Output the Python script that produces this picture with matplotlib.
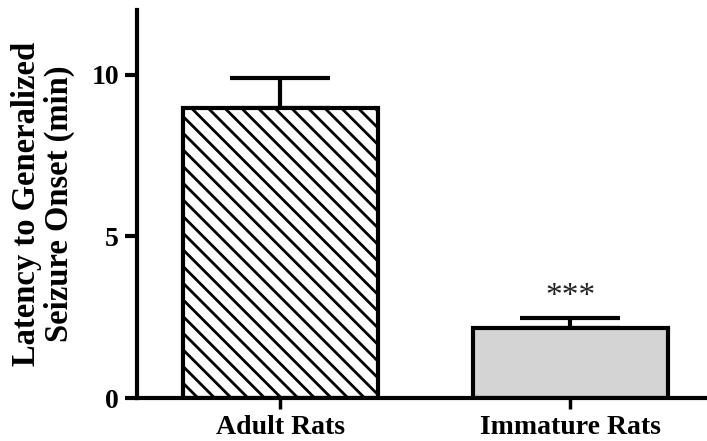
import matplotlib.pyplot as plt

# data
groups = ["Adult Rats", "Immature Rats"]
means = [8.97, 2.17]
sems = [0.93, 0.30]
marks = ["", "***"]

plt.rcParams["font.family"] = ["Liberation Serif", "DejaVu Serif"]
plt.rcParams["hatch.linewidth"] = 2.0

fig = plt.figure(figsize=(7.07, 4.41), dpi=100)
ax = fig.add_axes([0.194, 0.0975, 0.806, 0.88])

x = [0, 1]
bars = ax.bar(x, means, width=0.672, color=["white", "#d4d4d4"],
              edgecolor="black", linewidth=3, zorder=2)
bars[0].set_hatch("\\\\")

# upper error bars only
ax.errorbar(x, means, yerr=[[0, 0], sems], fmt="none", ecolor="black",
            elinewidth=3, capsize=36, capthick=3, zorder=1)

for xi, m, s, lab in zip(x, means, sems, marks):
    if lab:
        ax.text(xi, m + s + 0.2, lab, ha="center", va="bottom",
                fontsize=24, color="#222222")

ax.set_xlim(-0.493, 1.472)
ax.set_ylim(0, 12)
ax.set_yticks([0, 5, 10])
ax.set_xticks(x)
ax.set_xticklabels(groups)

for side in ["top", "right"]:
    ax.spines[side].set_visible(False)
for side in ["left", "bottom"]:
    ax.spines[side].set_linewidth(3)

ax.tick_params(axis="y", length=9, width=3, labelsize=20, pad=4)
ax.tick_params(axis="x", length=8, width=2.5, labelsize=20, pad=4)
for t in ax.get_xticklabels() + ax.get_yticklabels():
    t.set_fontweight("bold")

ax.set_ylabel("Latency to Generalized\nSeizure Onset (min)", fontsize=23.5,
              fontweight="bold", linespacing=1.05, labelpad=12)

fig.savefig("out.png", dpi=100)
